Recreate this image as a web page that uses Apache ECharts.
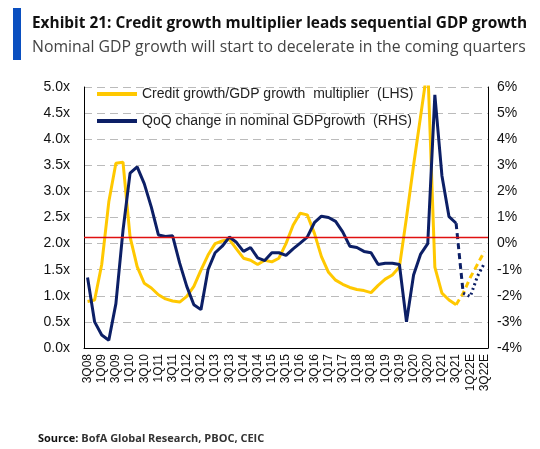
<!DOCTYPE html>
<html>
<head>
<meta charset="utf-8">
<script src="https://cdn.jsdelivr.net/npm/echarts@6/dist/echarts.min.js"></script>
<style>
html,body{margin:0;padding:0;background:#fff;}
#chart{width:540px;height:449px;}
</style>
</head>
<body>
<div id="chart"></div>
<script>
var quarters = ['3Q08','4Q08','1Q09','2Q09','3Q09','4Q09','1Q10','2Q10','3Q10','4Q10',
  '1Q11','2Q11','3Q11','4Q11','1Q12','2Q12','3Q12','4Q12','1Q13','2Q13','3Q13','4Q13',
  '1Q14','2Q14','3Q14','4Q14','1Q15','2Q15','3Q15','4Q15','1Q16','2Q16','3Q16','4Q16',
  '1Q17','2Q17','3Q17','4Q17','1Q18','2Q18','3Q18','4Q18','1Q19','2Q19','3Q19','4Q19',
  '1Q20','2Q20','3Q20','4Q20','1Q21','2Q21','3Q21','4Q21','1Q22E','2Q22E','3Q22E'];

// Credit growth / GDP growth multiplier (LHS), actual 3Q08..3Q21
var creditActual = [0.89,0.92,1.6,2.8,3.54,3.56,2.13,1.56,1.24,1.15,
  1.02,0.94,0.9,0.88,0.99,1.18,1.49,1.78,2.0,2.05,
  2.08,1.9,1.72,1.68,1.6,1.68,1.65,1.72,2.0,2.35,
  2.58,2.55,2.2,1.75,1.45,1.3,1.22,1.16,1.12,1.1,
  1.06,1.2,1.32,1.4,1.55,2.5,3.5,4.45,5.4,1.55,
  1.05,0.92,0.83];
// Forecast 3Q21..3Q22E (dashed)
var creditForecast = [0.83,1.05,1.35,1.6,1.85];

// QoQ change in nominal GDP growth (RHS, %), actual 3Q08..3Q21
var gdpActual = [-1.3,-3.0,-3.5,-3.7,-2.3,0.5,2.7,2.94,2.3,1.4,
  0.33,0.27,0.3,-0.75,-1.64,-2.34,-2.53,-1.0,-0.35,-0.1,
  0.25,0.05,-0.3,-0.15,-0.55,-0.65,-0.35,-0.35,-0.45,-0.2,
  0.02,0.25,0.8,1.05,1.0,0.85,0.45,-0.1,-0.15,-0.3,
  -0.35,-0.8,-0.75,-0.75,-0.8,-3.0,-1.2,-0.4,0.0,5.7,
  2.6,1.03,0.78];
// 3Q21..4Q21 (dashed)
var gdpBridge = [0.78,-1.9];
// 4Q21..3Q22E (dotted)
var gdpForecast = [-1.9,-2.03,-1.26,-0.75];

var leftTicks = {min:0, max:5, interval:0.5};
var rightTicks = {min:-4, max:6, interval:1};
var thresholdLHS = 2.13;

var nameCredit = 'Credit growth/GDP growth  multiplier  (LHS)';
var nameGdp = 'QoQ change in nominal GDPgrowth  (RHS)';

function place(values, start){
  var arr = [];
  for (var i = 0; i < quarters.length; i++) {
    var k = i - start;
    arr.push(k >= 0 && k < values.length ? values[k] : null);
  }
  return arr;
}

var YELLOW = '#FFC800';
var NAVY = '#0C1F66';

var chart = echarts.init(document.getElementById('chart'), null, {renderer:'canvas'});
chart.setOption({
  animation:false,
  backgroundColor:'#fff',
  graphic:[
    {type:'rect', left:13, top:8, shape:{width:8, height:52}, style:{fill:'#0A4FC0'}}
  ],
  title:[
    {text:'Exhibit 21: Credit growth multiplier leads sequential GDP growth', left:27, top:11,
     textStyle:{fontFamily:'Open Sans', fontWeight:'bold', fontSize:15.4, color:'#111'}},
    {text:'Nominal GDP growth will start to decelerate in the coming quarters', left:27, top:34,
     textStyle:{fontFamily:'Open Sans', fontWeight:'normal', fontSize:15.8, color:'#444'}},
    {text:'{b|Source:} BofA Global Research, PBOC, CEIC', left:33, top:428,
     textStyle:{fontFamily:'Open Sans', fontSize:11, color:'#333',
       rich:{b:{fontFamily:'Open Sans', fontWeight:'bold', fontSize:11, color:'#111'}}}}
  ],
  legend:{
    orient:'vertical', left:92, top:82, itemGap:12, itemGap:13,
    itemWidth:40, itemHeight:4, icon:'rect',
    textStyle:{fontFamily:'Liberation Sans', fontSize:14, color:'#222'},
    data:[nameCredit, nameGdp]
  },
  grid:{left:84, right:52, top:87, bottom:101, containLabel:false},
  xAxis:{
    type:'category', data:quarters, boundaryGap:true,
    axisLine:{lineStyle:{color:'#000', width:1}},
    axisTick:{show:false},
    axisLabel:{interval:1, rotate:90, fontFamily:'Liberation Sans', fontSize:12, color:'#111', margin:6}
  },
  yAxis:[
    {type:'value', min:leftTicks.min, max:leftTicks.max, interval:leftTicks.interval,
     axisLine:{show:true, lineStyle:{color:'#000'}}, axisTick:{show:false},
     axisLabel:{formatter:function(v){return v.toFixed(1)+'x';}, fontFamily:'Liberation Sans', fontSize:14, color:'#111', margin:14},
     splitLine:{show:true, lineStyle:{color:'#BBBBBB', type:[8,5], width:1}}},
    {type:'value', min:rightTicks.min, max:rightTicks.max, interval:rightTicks.interval,
     axisLine:{show:true, lineStyle:{color:'#000'}}, axisTick:{show:false},
     axisLabel:{formatter:'{value}%', fontFamily:'Liberation Sans', fontSize:14, color:'#111', margin:9},
     splitLine:{show:false}}
  ],
  series:[
    {name:nameCredit, type:'line', yAxisIndex:0, data:place(creditActual,0), showSymbol:false, symbol:'none',
     lineStyle:{color:YELLOW, width:3}, itemStyle:{color:YELLOW}, clip:true, z:3,
     markLine:{silent:true, symbol:'none', label:{show:false},
       lineStyle:{color:'#E01010', type:'solid', width:1.3},
       data:[{yAxis:thresholdLHS}]}},
    {name:nameCredit+' forecast', type:'line', yAxisIndex:0, data:place(creditForecast,52), showSymbol:false, symbol:'none',
     lineStyle:{color:YELLOW, width:3, type:[6,4]}, itemStyle:{color:YELLOW}, z:3},
    {name:nameGdp, type:'line', yAxisIndex:1, data:place(gdpActual,0), showSymbol:false, symbol:'none',
     lineStyle:{color:NAVY, width:3}, itemStyle:{color:NAVY}, z:4},
    {name:nameGdp+' bridge', type:'line', yAxisIndex:1, data:place(gdpBridge,52), showSymbol:false, symbol:'none',
     lineStyle:{color:NAVY, width:3, type:[6,4]}, itemStyle:{color:NAVY}, z:4},
    {name:nameGdp+' forecast', type:'line', yAxisIndex:1, data:place(gdpForecast,53), showSymbol:false, symbol:'none',
     lineStyle:{color:NAVY, width:3, type:[2,3]}, itemStyle:{color:NAVY}, z:4}
  ]
});
</script>
</body>
</html>
